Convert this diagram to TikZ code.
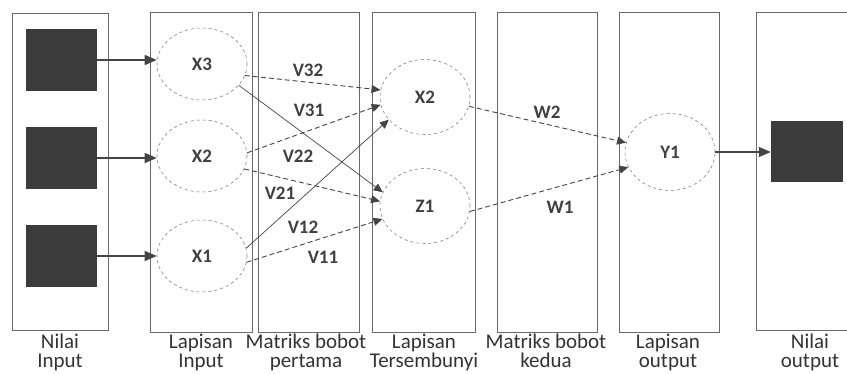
\documentclass[tikz,border=0pt]{standalone}
\usepackage{fontspec}
\setmainfont{Carlito}
\usetikzlibrary{arrows.meta,shapes.geometric}
\definecolor{boxline}{HTML}{6A6A6A}
\definecolor{wire}{HTML}{444444}
\definecolor{block}{HTML}{3B3B3B}
\begin{document}
\begin{tikzpicture}[x=1pt,y=-1pt,
  column/.style={draw=boxline,line width=0.9pt},
  neuron/.style={ellipse,draw=gray,dashed,line width=0.6pt,minimum width=90pt,minimum height=72pt,inner sep=0pt,
    font=\fontsize{19}{21}\selectfont\bfseries,text=black!75},
  datum/.style={rectangle,fill=block,minimum width=71pt,minimum height=62pt,inner sep=0pt},
  feed/.style={draw=wire,line width=1.3pt,-{Triangle[length=12pt,width=10pt]}},
  weight/.style={draw=wire,line width=0.9pt,dash pattern=on 5pt off 3pt,-{Triangle[length=9pt,width=8pt]}},
  cross/.style={draw=wire,line width=0.7pt,-{Triangle[length=9pt,width=8pt]}},
  wlabel/.style={font=\fontsize{19}{21}\selectfont\bfseries,text=black!75,inner sep=0pt},
  caption/.style={font=\fontsize{21}{19}\selectfont,text=black!80,align=center,anchor=north,inner sep=0pt}]
\useasboundingbox (0,0) rectangle (847,374);

% column frames
\draw[column] (12,13) rectangle (108,330);
\draw[column] (150,12) rectangle (252,332);
\draw[column] (258,12) rectangle (359,332);
\draw[column] (372,12) rectangle (475,332);
\draw[column] (497,12) rectangle (597,332);
\draw[column] (619,12) rectangle (719,332);
\draw[column] (756,12) -- (852,12);
\draw[column] (756,12) -- (756,330) -- (852,330);

% input values
\node[datum] (s3) at (61.5,60) {};
\node[datum] (s2) at (61.5,158) {};
\node[datum] (s1) at (61.5,256) {};

% input layer
\node[neuron] (x3) at (202,64) {X3};
\node[neuron] (x2) at (202,156) {X2};
\node[neuron] (x1) at (202,256) {X1};

% hidden layer
\node[neuron,minimum height=75pt] (h2) at (425,97) {X2};
\node[neuron,minimum height=75pt] (z1) at (425,206) {Z1};

% output layer
\node[neuron,minimum height=77pt] (y1) at (670,152) {Y1};
\node[datum,minimum width=72pt,minimum height=61pt] (out) at (807,151.5) {};

% value feeds, kept horizontal
\draw[feed] (s3.east) -- (s3.east -| x3.west);
\draw[feed] (s2.east) -- (s2.east -| x2.west);
\draw[feed] (s1.east) -- (s1.east -| x1.west);
\draw[feed] (y1.east) -- (y1.east -| out.west);

% first weight matrix
\draw[weight] (x3.345) -- (h2.171);
\draw[cross]  (x3.330) -- (z1.162);
\draw[weight] (x2.4)   -- (h2.190);
\draw[weight] (x2.343) -- (z1.174);
\draw[cross]  (x1.10)  -- (h2.212);
\draw[weight] (x1.352) -- (z1.197);

% second weight matrix
\draw[weight] (h2.348) -- (y1.168);
\draw[weight] (z1.353) -- (y1.200);

% weight labels
\node[wlabel] (v32) at (308,70) {V32};
\node[wlabel] (v31) at (309,110) {V31};
\node[wlabel] (v22) at (298,156) {V22};
\node[wlabel] (v21) at (280,193) {V21};
\node[wlabel] (v12) at (303,227) {V12};
\node[wlabel] (v11) at (323,257) {V11};
\node[wlabel] (w2) at (547,112) {W2};
\node[wlabel] (w1) at (560,207) {W1};

% column captions
\node[caption] (c1) at (60,334) {Nilai\\Input};
\node[caption] (c2) at (201,334) {Lapisan\\Input};
\node[caption] (c3) at (306,334) {Matriks bobot\\pertama};
\node[caption] (c4) at (424,334) {Lapisan\\Tersembunyi};
\node[caption] (c5) at (546,334) {Matriks bobot\\kedua};
\node[caption] (c6) at (668,334) {Lapisan\\output};
\node[caption] (c7) at (810,334) {Nilai\\output};
\end{tikzpicture}
\end{document}
